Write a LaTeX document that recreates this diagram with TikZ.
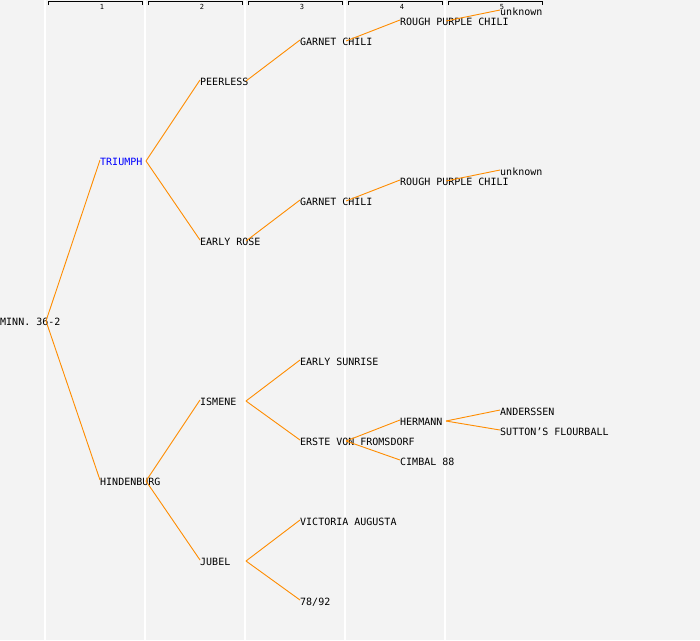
\documentclass[tikz,border=0pt]{standalone}
\usepackage{fontspec}
\newfontfamily\lblfont{DejaVu Sans Mono}
\definecolor{bgc}{HTML}{F3F3F3}
\definecolor{lnc}{HTML}{FF8C00}
\begin{document}
\begin{tikzpicture}[x=1pt,y=-1pt,
  lbl/.style={anchor=west,inner sep=0pt,font=\lblfont\fontsize{10}{12}\selectfont,text height=7.3pt,text depth=0pt},
  colnum/.style={inner sep=0pt,font=\lblfont\fontsize{7}{8}\selectfont},
  edge/.style={draw=lnc,line width=0.9pt},
  grid/.style={draw=white,line width=1.3pt},
  bracket/.style={draw=black,line width=0.8pt}]
\fill[bgc] (0,0) rectangle (700,640);
\useasboundingbox (0,0) rectangle (700,640);
% column lines
\foreach \gx in {45,145,245,345,445} \draw[grid] (\gx,0) -- (\gx,640);
% brackets
\foreach \i/\bx in {1/48,2/148,3/248,4/348,5/448} {
  \draw[bracket] (\bx,5) -- (\bx,1.5) -- (\bx+94,1.5) -- (\bx+94,5);
  \node[colnum] (c\i) at (\bx+54,7) {\i};
}
% nodes
\node[lbl] (n0) at (0,322) {MINN. 36-2};
\node[lbl,text=blue] (n1) at (100,162) {TRIUMPH};
\node[lbl] (n2) at (100,482) {HINDENBURG};
\node[lbl] (n3) at (200,82) {PEERLESS};
\node[lbl] (n4) at (200,242) {EARLY ROSE};
\node[lbl] (n5) at (200,402) {ISMENE};
\node[lbl] (n6) at (200,562) {JUBEL};
\node[lbl] (n7) at (300,42) {GARNET CHILI};
\node[lbl] (n8) at (300,202) {GARNET CHILI};
\node[lbl] (n9) at (300,362) {EARLY SUNRISE};
\node[lbl] (n10) at (300,442) {ERSTE VON FROMSDORF};
\node[lbl] (n11) at (300,522) {VICTORIA AUGUSTA};
\node[lbl] (n12) at (300,602) {78/92};
\node[lbl] (n13) at (400,22) {ROUGH PURPLE CHILI};
\node[lbl] (n14) at (400,182) {ROUGH PURPLE CHILI};
\node[lbl] (n15) at (400,422) {HERMANN};
\node[lbl] (n16) at (400,462) {CIMBAL 88};
\node[lbl] (n17) at (500,12) {unknown};
\node[lbl] (n18) at (500,172) {unknown};
\node[lbl] (n19) at (500,412) {ANDERSSEN};
\node[lbl] (n20) at (500,432) {SUTTON’S FLOURBALL};
% vertices
\coordinate (v0) at (46,321);
\coordinate (v1) at (146,161);
\coordinate (v2) at (146,481);
\coordinate (v3) at (246,81);
\coordinate (v4) at (246,241);
\coordinate (v5) at (246,401);
\coordinate (v6) at (246,561);
\coordinate (v7) at (346,41);
\coordinate (v8) at (346,201);
\coordinate (v9) at (346,441);
\coordinate (v10) at (446,21);
\coordinate (v11) at (446,181);
\coordinate (v12) at (446,421);
% edges
\foreach \v/\c in {v0/n1,v0/n2,v1/n3,v1/n4,v2/n5,v2/n6,v3/n7,v4/n8,v5/n9,v5/n10,v6/n11,v6/n12,v7/n13,v8/n14,v9/n15,v9/n16,v10/n17,v11/n18,v12/n19,v12/n20}
  \draw[edge] (\v) -- ([yshift=2pt]\c.west);
\end{tikzpicture}
\end{document}
